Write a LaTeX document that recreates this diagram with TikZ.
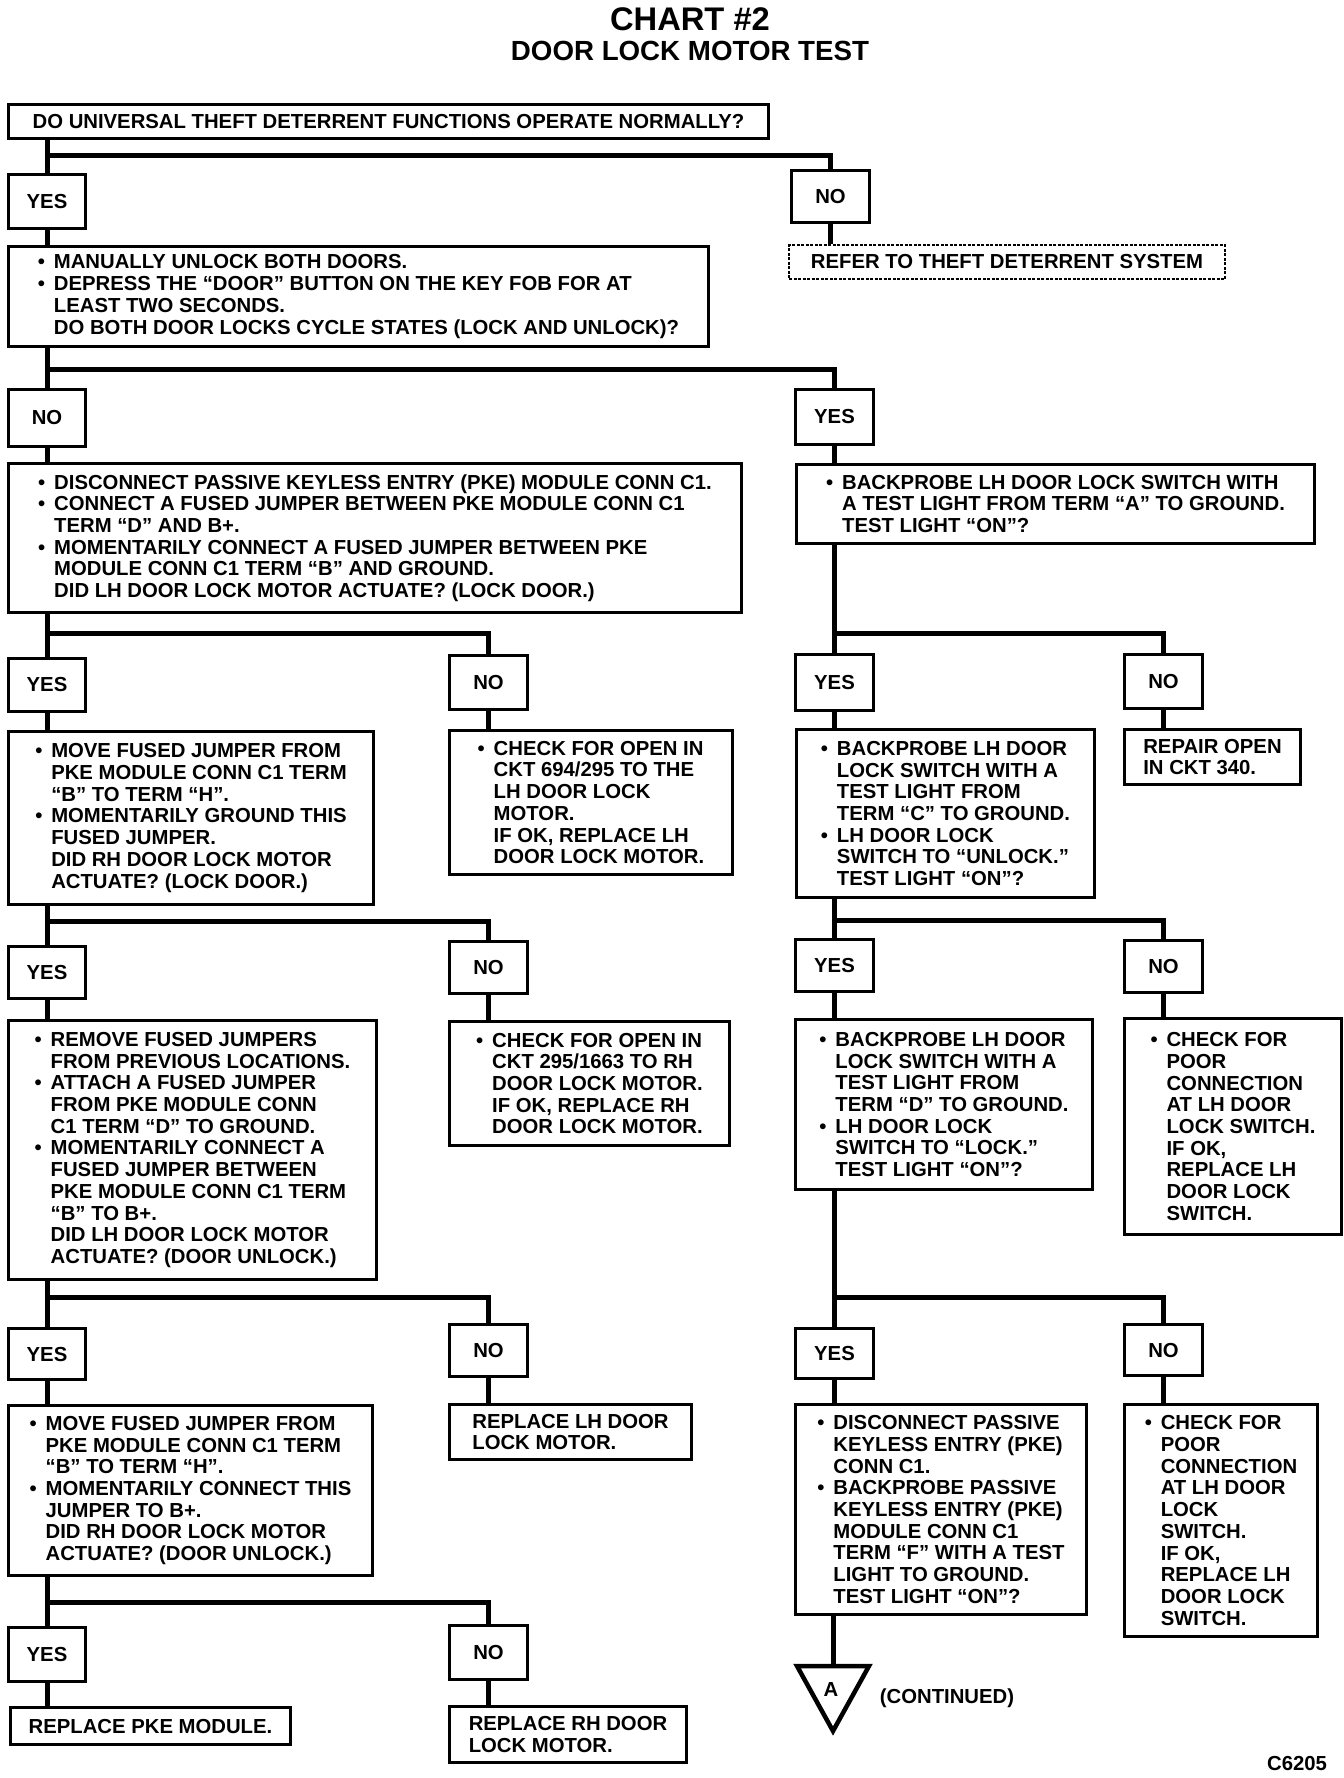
\documentclass[tikz,border=0pt]{standalone}
\usepackage{fontspec}
\setmainfont{Liberation Sans}
\usepackage{tikz}

\newcommand{\bfont}{\fontsize{20.3}{21.7}\selectfont\bfseries}
\newcommand{\bu}{\makebox[16pt][l]{\textbullet}}
\newcommand{\nb}{\hspace*{16pt}}

\begin{document}
\begin{tikzpicture}[x=1pt,y=-1pt,
   box/.style={rectangle,draw,line width=3pt,anchor=north west,
    align=left,inner sep=+4pt,font=\bfont},
   dbox/.style={box,line width=2pt,dash pattern=on 3pt off 1.5pt},
   ans/.style={rectangle,draw,line width=3pt,anchor=north west,
    minimum width=78pt,minimum height=53pt,inner sep=+2pt,font=\bfont},
   conn/.style={line width=5pt}
    ]
  \fill[white] (0,0) rectangle (1344,1778);
  \useasboundingbox (0,0) rectangle (1344,1778);

  % -- title
  \node[font=\fontsize{32.7}{36}\selectfont\bfseries] at (690,19) (title) {CHART \#2};
  \node[font=\fontsize{27.7}{30}\selectfont\bfseries] at (690,51) (sub) {DOOR LOCK MOTOR TEST};

  % -- first question
  \node[box,minimum width=760pt,minimum height=34pt] at (7,103) (q1)
    {DO UNIVERSAL THEFT DETERRENT FUNCTIONS OPERATE NORMALLY?};
  \node[ans,minimum width=77pt,minimum height=54pt] at (7,173) (yes1) {YES};
  \node[ans,minimum height=52pt] at (790,169) (no1) {NO};
  \node[dbox,minimum width=436pt,minimum height=34pt] at (788,244) (refer)
    {REFER TO THEFT DETERRENT SYSTEM};

  \node[box,minimum width=700pt,minimum height=100pt] at (7,245) (q2)
    {\bu MANUALLY UNLOCK BOTH DOORS.\\
     \bu DEPRESS THE “DOOR” BUTTON ON THE KEY FOB FOR AT\\
     \nb LEAST TWO SECONDS.\\
     \nb DO BOTH DOOR LOCKS CYCLE STATES (LOCK AND UNLOCK)?};

  % -- second row
  \node[ans,minimum width=77pt,minimum height=57pt] at (7,388) (no2) {NO};
  \node[ans,minimum height=55pt] at (794,388) (yes2) {YES};

  \node[box,minimum width=733pt,minimum height=149pt] at (7,462) (q3)
    {\bu DISCONNECT PASSIVE KEYLESS ENTRY (PKE) MODULE CONN C1.\\
     \bu CONNECT A FUSED JUMPER BETWEEN PKE MODULE CONN C1\\
     \nb TERM “D” AND B+.\\
     \bu MOMENTARILY CONNECT A FUSED JUMPER BETWEEN PKE\\
     \nb MODULE CONN C1 TERM “B” AND GROUND.\\
     \nb DID LH DOOR LOCK MOTOR ACTUATE? (LOCK DOOR.)};
  \node[box,minimum width=518pt,minimum height=79pt] at (795,463) (r3)
    {\bu BACKPROBE LH DOOR LOCK SWITCH WITH\\
     \nb A TEST LIGHT FROM TERM “A” TO GROUND.\\
     \nb TEST LIGHT “ON”?};

  % -- third row
  \node[ans,minimum width=77pt] at (7,657) (yes3) {YES};
  \node[ans,minimum height=54pt] at (448,654) (no3) {NO};
  \node[ans,minimum height=56pt] at (794,653) (yes3r) {YES};
  \node[ans,minimum height=54pt] at (1123,653) (no3r) {NO};

  \node[box,minimum width=365pt,minimum height=173pt] at (7,730) (q4)
    {\bu MOVE FUSED JUMPER FROM\\
     \nb PKE MODULE CONN C1 TERM\\
     \nb “B” TO TERM “H”.\\
     \bu MOMENTARILY GROUND THIS\\
     \nb FUSED JUMPER.\\
     \nb DID RH DOOR LOCK MOTOR\\
     \nb ACTUATE? (LOCK DOOR.)};
  \node[box,minimum width=283pt,minimum height=144pt] at (448,729) (n4)
    {\bu CHECK FOR OPEN IN\\
     \nb CKT 694/295 TO THE\\
     \nb LH DOOR LOCK\\
     \nb MOTOR.\\
     \nb IF OK, REPLACE LH\\
     \nb DOOR LOCK MOTOR.};
  \node[box,minimum width=298pt,minimum height=168pt] at (795,728) (r4)
    {\bu BACKPROBE LH DOOR\\
     \nb LOCK SWITCH WITH A\\
     \nb TEST LIGHT FROM\\
     \nb TERM “C” TO GROUND.\\
     \bu LH DOOR LOCK\\
     \nb SWITCH TO “UNLOCK.”\\
     \nb TEST LIGHT “ON”?};
  \node[box,minimum width=176pt,minimum height=55pt] at (1123,728) (rn4)
    {REPAIR OPEN\\ IN CKT 340.};

  % -- fourth row
  \node[ans,minimum width=77pt,minimum height=52pt] at (7,945) (yes5) {YES};
  \node[ans,minimum height=52pt] at (448,940) (no5) {NO};
  \node[ans,minimum height=52pt] at (794,938) (yes5r) {YES};
  \node[ans,minimum height=52pt] at (1123,939) (no5r) {NO};

  \node[box,minimum width=368pt,minimum height=259pt] at (7,1019) (q5)
    {\bu REMOVE FUSED JUMPERS\\
     \nb FROM PREVIOUS LOCATIONS.\\
     \bu ATTACH A FUSED JUMPER\\
     \nb FROM PKE MODULE CONN\\
     \nb C1 TERM “D” TO GROUND.\\
     \bu MOMENTARILY CONNECT A\\
     \nb FUSED JUMPER BETWEEN\\
     \nb PKE MODULE CONN C1 TERM\\
     \nb “B” TO B+.\\
     \nb DID LH DOOR LOCK MOTOR\\
     \nb ACTUATE? (DOOR UNLOCK.)};
  \node[box,minimum width=280pt,minimum height=124pt] at (448,1020) (n5)
    {\bu CHECK FOR OPEN IN\\
     \nb CKT 295/1663 TO RH\\
     \nb DOOR LOCK MOTOR.\\
     \nb IF OK, REPLACE RH\\
     \nb DOOR LOCK MOTOR.};
  \node[box,minimum width=297pt,minimum height=170pt] at (794,1018) (r5)
    {\bu BACKPROBE LH DOOR\\
     \nb LOCK SWITCH WITH A\\
     \nb TEST LIGHT FROM\\
     \nb TERM “D” TO GROUND.\\
     \bu LH DOOR LOCK\\
     \nb SWITCH TO “LOCK.”\\
     \nb TEST LIGHT “ON”?};
  \node[box,minimum width=217pt,minimum height=216pt] at (1123,1017) (rn5)
    {\bu CHECK FOR\\
     \nb POOR\\
     \nb CONNECTION\\
     \nb AT LH DOOR\\
     \nb LOCK SWITCH.\\
     \nb IF OK,\\
     \nb REPLACE LH\\
     \nb DOOR LOCK\\
     \nb SWITCH.};

  % -- fifth row
  \node[ans,minimum width=77pt,minimum height=51pt] at (7,1327) (yes6) {YES};
  \node[ans,minimum height=52pt] at (448,1323) (no6) {NO};
  \node[ans,minimum height=50pt] at (794,1327) (yes6r) {YES};
  \node[ans,minimum height=51pt] at (1123,1323) (no6r) {NO};

  \node[box,minimum width=364pt,minimum height=170pt] at (7,1404) (q6)
    {\bu MOVE FUSED JUMPER FROM\\
     \nb PKE MODULE CONN C1 TERM\\
     \nb “B” TO TERM “H”.\\
     \bu MOMENTARILY CONNECT THIS\\
     \nb JUMPER TO B+.\\
     \nb DID RH DOOR LOCK MOTOR\\
     \nb ACTUATE? (DOOR UNLOCK.)};
  \node[box,minimum width=242pt,minimum height=55pt] at (448,1403) (n6)
    {REPLACE LH DOOR\\ LOCK MOTOR.};
  \node[box,minimum width=291pt,minimum height=210pt] at (794,1403) (r6)
    {\bu DISCONNECT PASSIVE\\
     \nb KEYLESS ENTRY (PKE)\\
     \nb CONN C1.\\
     \bu BACKPROBE PASSIVE\\
     \nb KEYLESS ENTRY (PKE)\\
     \nb MODULE CONN C1\\
     \nb TERM “F” WITH A TEST\\
     \nb LIGHT TO GROUND.\\
     \nb TEST LIGHT “ON”?};
  \node[box,minimum width=193pt,minimum height=232pt] at (1123,1403) (rn6)
    {\bu CHECK FOR\\
     \nb POOR\\
     \nb CONNECTION\\
     \nb AT LH DOOR\\
     \nb LOCK\\
     \nb SWITCH.\\
     \nb IF OK,\\
     \nb REPLACE LH\\
     \nb DOOR LOCK\\
     \nb SWITCH.};

  % -- bottom row
  \node[ans,minimum width=77pt,minimum height=54pt] at (7,1626) (yes7) {YES};
  \node[ans,minimum height=54pt] at (448,1624) (no7) {NO};
  \node[box,minimum width=280pt,minimum height=37pt] at (9,1706) (pke)
    {REPLACE PKE MODULE.};
  \node[box,minimum width=237pt,minimum height=56pt] at (448,1705) (rhm)
    {REPLACE RH DOOR\\ LOCK MOTOR.};

  % -- continued
  \coordinate (tri) at (833,1666);
  \draw[line width=4.5pt] (797,1666) -- (869,1666) -- (833,1731) -- cycle;
  \node[font=\bfont] at (831,1689) (a) {A};
  \node[font=\bfont] at (947,1698) (cont) {(CONTINUED)};
  \node[font=\bfont] at (1297,1763) (fig) {C6205};

  % -- junctions
  \coordinate (j1) at (45.5,155);
  \coordinate (j2) at (45.5,369);
  \coordinate (j3) at (45.5,633);
  \coordinate (j3r) at (833,633);
  \coordinate (j4) at (45.5,921);
  \coordinate (j4r) at (833,920);
  \coordinate (j5) at (45.5,1297);
  \coordinate (j5r) at (833,1297);
  \coordinate (j6) at (45.5,1602);

  % -- connectors
  \draw[conn] (yes1.north |- q1.south) -- (yes1.north);
  \draw[conn] (j1) -| (no1.north);
  \draw[conn] (no1.south) -- (no1.south |- refer.north);
  \draw[conn] (yes1.south) -- (yes1.south |- q2.north);

  \draw[conn] (no2.north |- q2.south) -- (no2.north);
  \draw[conn] (j2) -| (yes2.north);
  \draw[conn] (no2.south) -- (no2.south |- q3.north);
  \draw[conn] (yes2.south) -- (yes2.south |- r3.north);

  \draw[conn] (yes3.north |- q3.south) -- (yes3.north);
  \draw[conn] (j3) -| (no3.north);
  \draw[conn] (yes3r.north |- r3.south) -- (yes3r.north);
  \draw[conn] (j3r) -| (no3r.north);
  \draw[conn] (yes3.south) -- (yes3.south |- q4.north);
  \draw[conn] (no3.south) -- (no3.south |- n4.north);
  \draw[conn] (yes3r.south) -- (yes3r.south |- r4.north);
  \draw[conn] (no3r.south) -- (no3r.south |- rn4.north);

  \draw[conn] (yes5.north |- q4.south) -- (yes5.north);
  \draw[conn] (j4) -| (no5.north);
  \draw[conn] (yes5r.north |- r4.south) -- (yes5r.north);
  \draw[conn] (j4r) -| (no5r.north);
  \draw[conn] (yes5.south) -- (yes5.south |- q5.north);
  \draw[conn] (no5.south) -- (no5.south |- n5.north);
  \draw[conn] (yes5r.south) -- (yes5r.south |- r5.north);
  \draw[conn] (no5r.south) -- (no5r.south |- rn5.north);

  \draw[conn] (yes6.north |- q5.south) -- (yes6.north);
  \draw[conn] (j5) -| (no6.north);
  \draw[conn] (yes6r.north |- r5.south) -- (yes6r.north);
  \draw[conn] (j5r) -| (no6r.north);
  \draw[conn] (yes6.south) -- (yes6.south |- q6.north);
  \draw[conn] (no6.south) -- (no6.south |- n6.north);
  \draw[conn] (yes6r.south) -- (yes6r.south |- r6.north);
  \draw[conn] (no6r.south) -- (no6r.south |- rn6.north);

  \draw[conn] (yes7.north |- q6.south) -- (yes7.north);
  \draw[conn] (j6) -| (no7.north);
  \draw[conn] (yes7.south) -- (yes7.south |- pke.north);
  \draw[conn] (no7.south) -- (no7.south |- rhm.north);

  \draw[conn] (tri |- r6.south) -- (tri);

\end{tikzpicture}
\end{document}
